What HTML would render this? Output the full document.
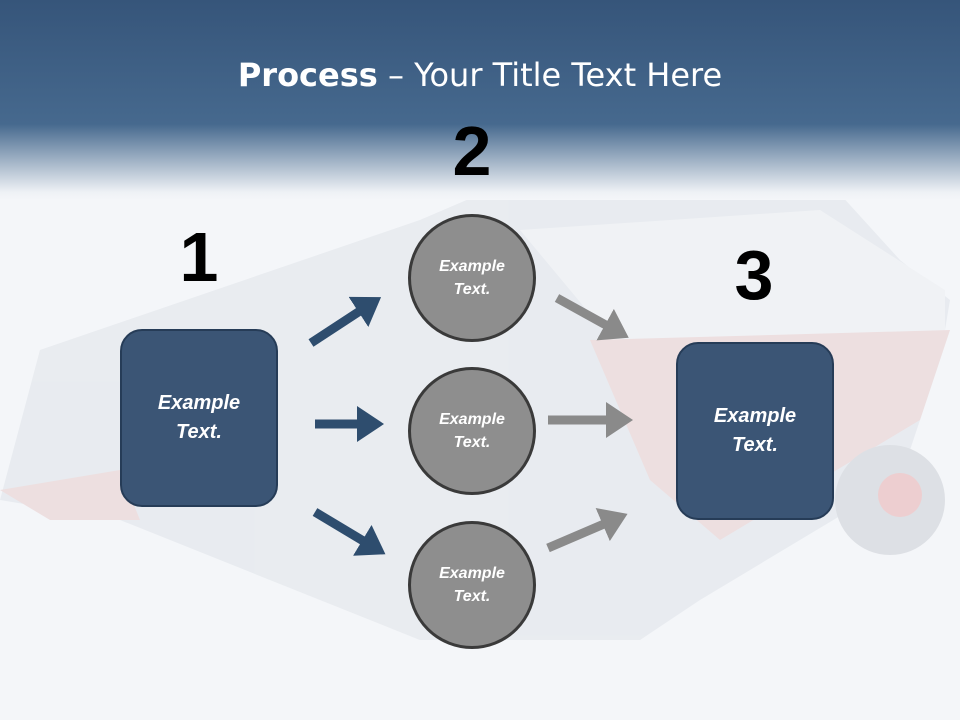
<!DOCTYPE html>
<html><head><meta charset="utf-8"><style>
html,body{margin:0;padding:0}
body{width:960px;height:720px;position:relative;overflow:hidden;background:#f4f6f9;font-family:"Liberation Sans",sans-serif}
.hdr{position:absolute;left:0;top:0;width:960px;height:200px;background:linear-gradient(to bottom,#36557a 0%,#46698e 62%,#eef1f5 96%,#f4f6f9 100%)}
.title{position:absolute;top:56px;left:0;width:960px;text-align:center;color:#fff;font-size:32px;font-family:"DejaVu Sans","Liberation Sans",sans-serif;font-weight:normal}
.num{position:absolute;font-weight:bold;font-size:70px;color:#000;transform:translateX(-50%);line-height:1}
.box{position:absolute;width:158px;height:178px;border-radius:22px;background:#3b5575;border:2px solid #263c57;box-sizing:border-box;display:flex;align-items:center;justify-content:center;text-align:center;color:#fff;font-style:italic;font-weight:bold;font-size:20px;line-height:29px}
.circ{position:absolute;width:128px;height:128px;border-radius:50%;background:#8e8e8e;border:3px solid #3a3a3a;box-sizing:border-box;display:flex;align-items:center;justify-content:center;text-align:center;color:#fff;font-style:italic;font-weight:bold;font-size:16px;line-height:23px}
</style></head><body>
<svg style="position:absolute;left:0;top:0" width="960" height="720">
<g opacity="0.5">
<polygon points="40,350 420,220 560,160 800,150 900,260 950,300 940,360 900,480 700,600 640,640 420,640 120,520 0,500" fill="#dde2e8"/>
<polygon points="520,230 820,210 945,290 945,340 620,350" fill="#eef0f3"/>
<polygon points="590,340 950,330 920,420 720,540 650,480" fill="#e8c9c9"/>
<polygon points="0,490 120,470 140,520 50,520" fill="#e8c9c9"/>
<circle cx="890" cy="500" r="55" fill="#c8ccd2"/>
<circle cx="900" cy="495" r="22" fill="#e8a8a8"/>
<rect x="540" y="140" width="260" height="60" fill="#c9ced6"/>
</g>
</svg>
<div class="hdr"></div>
<div class="title"><b style="font-weight:bold">Process</b> – Your Title Text Here</div>
<div class="num" style="left:199px;top:222px">1</div>
<div class="num" style="left:472px;top:116px">2</div>
<div class="num" style="left:754px;top:240px">3</div>
<svg style="position:absolute;left:0;top:0" width="960" height="720">
<defs>
<marker id="hb" markerWidth="4" markerHeight="4" refX="1" refY="2" orient="auto" markerUnits="strokeWidth"><path d="M0,0 L3,2 L0,4z" fill="#2e4d6e"/></marker>
<marker id="hg" markerWidth="4" markerHeight="4" refX="1" refY="2" orient="auto" markerUnits="strokeWidth"><path d="M0,0 L3,2 L0,4z" fill="#8a8a8a"/></marker>
</defs>
<g stroke-width="9">
<line x1="311" y1="343" x2="366" y2="307" stroke="#2e4d6e" marker-end="url(#hb)"/>
<line x1="315" y1="424" x2="366" y2="424" stroke="#2e4d6e" marker-end="url(#hb)"/>
<line x1="315" y1="512" x2="370" y2="545" stroke="#2e4d6e" marker-end="url(#hb)"/>
<line x1="557" y1="298" x2="613" y2="329" stroke="#8a8a8a" marker-end="url(#hg)"/>
<line x1="548" y1="420" x2="615" y2="420" stroke="#8a8a8a" marker-end="url(#hg)"/>
<line x1="548" y1="548" x2="611" y2="521" stroke="#8a8a8a" marker-end="url(#hg)"/>
</g>
</svg>
<div class="box" style="left:120px;top:329px">Example<br>Text.</div>
<div class="box" style="left:676px;top:342px">Example<br>Text.</div>
<div class="circ" style="left:408px;top:214px">Example<br>Text.</div>
<div class="circ" style="left:408px;top:367px">Example<br>Text.</div>
<div class="circ" style="left:408px;top:521px">Example<br>Text.</div>
</body></html>
